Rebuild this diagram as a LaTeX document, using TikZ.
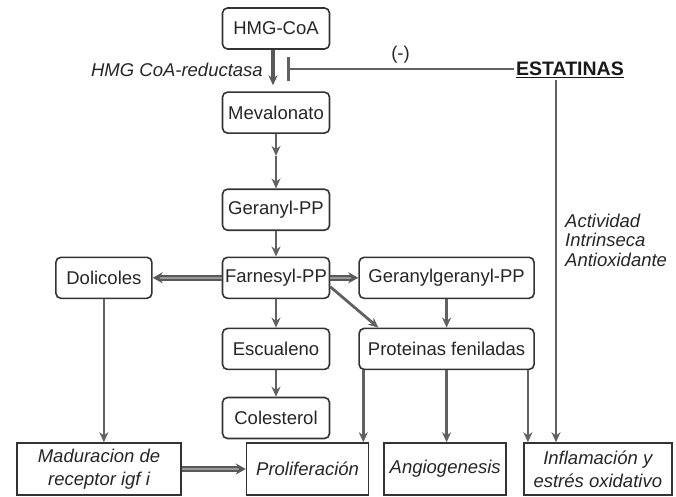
\documentclass[tikz,border=0pt]{standalone}
\usepackage{fontspec}
\setmainfont{Liberation Sans}
\usepackage{xcolor}
\usepackage{tikz}
\usetikzlibrary{arrows.meta,positioning}

\begin{document}
\begin{tikzpicture}[x=1pt, y=1pt,
  box/.style={rectangle, rounded corners=5pt, draw=black!80, line width=1.6pt, fill=white, text=black!85, minimum height=41pt, minimum width=107pt, inner sep=2pt, font=\fontsize{18.5}{21}\selectfont},
  res/.style={rectangle, draw=black!80, line width=1.6pt, fill=white, text=black!85, minimum height=52pt, inner sep=2pt, align=center, font=\fontsize{18.5}{23}\selectfont\itshape},
  lbl/.style={inner sep=1pt, text=black!85, font=\fontsize{18.5}{20}\selectfont\itshape},
  arr/.style={-{Stealth[length=10pt,width=9pt]}, line width=2.8pt, draw=black!62},
  dbl/.style={-{Stealth[length=10pt,width=11pt]}, line width=1.8pt, draw=black!65, double=black!40, double distance=2pt}
]
\useasboundingbox (0,0) rectangle (676,-496);

% main pathway
\node[box] (hmg) at (276,-28.5) {HMG-CoA};
\node[box, below=41.5pt of hmg] (mev) {Mevalonato};
\node[box, below=54.5pt of mev] (ger) {Geranyl-PP};
\node[box, below=25.5pt of ger] (farn) {Farnesyl-PP};
\node[box, below=28.5pt of farn] (esc) {Escualeno};
\node[box, below=26.5pt of esc] (col) {Colesterol};
\node[box, minimum width=96pt, left=69pt of farn] (dol) {Dolicoles};
\node[box, minimum width=175pt, right=28pt of farn] (gg) {Geranylgeranyl-PP};
\node[box, minimum width=175pt, below=28.5pt of gg] (prot) {Proteinas feniladas};

% effects
\node[res, minimum width=164pt] (mad) at (99,-469) {Maduracion de\\receptor igf i};
\node[res, minimum width=122pt, right=64pt of mad] (prol) {Proliferación};
\node[res, minimum width=122pt, right=14pt of prol] (ang) {Angiogenesis};
\node[res, minimum width=148pt, right=16pt of ang] (infl) {Inflamación y\\estrés oxidativo};

% statins
\node[inner sep=2pt, text=black!90, font=\fontsize{19.5}{22}\selectfont\bfseries, anchor=base] (est) at (570,-75.5) {\underline{ESTATINAS}};
\node[lbl, anchor=east] (enz) at (264,-70) {HMG CoA-reductasa};
\node[lbl, align=left, anchor=west, font=\fontsize{18.5}{19.5}\selectfont\itshape] (act) at (564,-240) {Actividad\\Intrinseca\\Antioxidante};

\coordinate (blk) at (287,-69);
\coordinate[below=22pt of mev] (mstep);
\coordinate (p1) at ([xshift=5pt]prot.south west);
\coordinate (p3) at ([xshift=-7pt]prot.south east);
\coordinate (e1) at ([xshift=-14pt]est.south);

\draw[-{Stealth[length=10pt,width=9pt]}, line width=3.4pt, draw=black!65, shorten >=6pt] ([xshift=-3pt]hmg.south) -- ([xshift=-3pt]mev.north);
\draw[line width=2.8pt, draw=black!62, -{Bar[width=24pt]}] (est.west |- blk) -- node[lbl, above=3pt, font=\fontsize{18.5}{20}\selectfont] {(-)} (blk);
\draw[arr] (mev) -- (mstep);
\draw[arr] (mstep) -- (ger);
\draw[arr] (ger) -- (farn);
\draw[arr] (farn) -- (esc);
\draw[arr] (esc) -- (col);
\draw[dbl] (farn) -- (dol);
\draw[dbl] (farn) -- (gg);
\draw[arr] ([yshift=-9pt]farn.east) -- ([xshift=20pt]prot.north west);
\draw[arr] (gg) -- (prot);
\draw[arr] (dol) -- (dol |- mad.north);
\draw[arr] (p1) -- (p1 |- prol.north);
\draw[arr] (prot) -- (prot |- ang.north);
\draw[arr] (p3) -- (p3 |- infl.north);
\draw[arr] (e1) -- (e1 |- infl.north);
\draw[dbl] (mad) -- (prol);
\end{tikzpicture}
\end{document}
